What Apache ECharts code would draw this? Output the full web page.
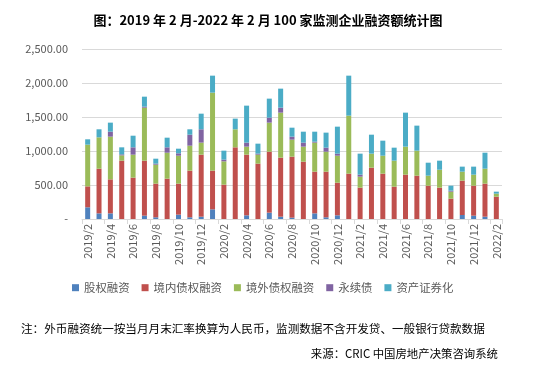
<!DOCTYPE html>
<html><head><meta charset="utf-8">
<script src="https://cdn.jsdelivr.net/npm/echarts@6/dist/echarts.min.js"></script>
<style>html,body{margin:0;padding:0;background:#fff}#c{width:536px;height:371px}</style>
</head><body><div id="c"></div>
<script>
const categories = ['2019/2','2019/3','2019/4','2019/5','2019/6','2019/7','2019/8','2019/9','2019/10','2019/11','2019/12','2020/1','2020/2','2020/3','2020/4','2020/5','2020/6','2020/7','2020/8','2020/9','2020/10','2020/11','2020/12','2021/1','2021/2','2021/3','2021/4','2021/5','2021/6','2021/7','2021/8','2021/9','2021/10','2021/11','2021/12','2022/1','2022/2'];
const equity   = [172,83,83,0,0,49,25,0,64,25,34,142,0,0,54,0,93,34,20,0,83,25,54,0,0,0,0,0,0,0,0,0,0,59,49,34,0];
const domestic = [308,657,500,858,608,809,495,593,456,686,912,569,505,1054,892,814,897,868,897,843,613,671,480,667,461,755,667,475,652,637,490,461,299,505,441,486,328];
const overseas = [613,461,628,78,338,779,279,382,411,367,177,1147,343,265,118,132,427,662,250,221,427,294,397,853,162,206,264,383,412,368,147,264,103,132,162,220,45];
const perpetual= [0,0,73,15,108,15,15,79,35,162,196,0,25,0,59,15,73,73,44,59,14,59,30,0,29,0,0,0,0,0,0,0,15,0,0,0,0];
const abs      = [79,118,133,103,171,147,73,142,68,79,230,250,132,157,544,147,280,280,132,161,147,221,397,588,309,279,221,191,500,368,191,133,73,74,118,235,29];
const seriesNames = ['股权融资','境内债权融资','境外债权融资','永续债','资产证券化'];
const colors = ['#4f81bd','#c0504d','#9bbb59','#8064a2','#4bacc6'];
const yTicks = {max:2500, interval:500};

const chart = echarts.init(document.getElementById('c'));
const dataArr = [equity, domestic, overseas, perpetual, abs];
const font = '"Noto Sans CJK SC", "Microsoft YaHei", sans-serif';
chart.setOption({
  animation:false,
  color: colors,
  title:[
    {text:'图：2019 年 2 月-2022 年 2 月 100 家监测企业融资额统计图', left:'center', top:9,
     textStyle:{fontSize:13, fontWeight:'bold', color:'#000', fontFamily:font}},
    {text:'注：外币融资统一按当月月末汇率换算为人民币，监测数据不含开发贷、一般银行贷款数据', left:16, top:318,
     textStyle:{fontSize:11.6, fontWeight:'normal', color:'#000', fontFamily:font}},
    {text:'来源：CRIC 中国房地产决策咨询系统', right:33, top:343,
     textStyle:{fontSize:11.4, fontWeight:'normal', color:'#000', fontFamily:font}}
  ],
  legend:{data:seriesNames, top:277, left:67, itemWidth:7, itemHeight:7, itemGap:12, icon:'rect',
    textStyle:{fontSize:11.4, color:'#595959', fontFamily:font}},
  grid:{left:82, right:34, top:49, bottom:152},
  xAxis:{type:'category', data:categories, boundaryGap:true,
    axisLine:{lineStyle:{color:'#d9d9d9'}},
    axisTick:{show:true, interval:1, length:5, lineStyle:{color:'#d9d9d9'}},
    axisLabel:{interval:1, rotate:90, fontSize:11, color:'#595959', fontFamily:font, margin:5}},
  yAxis:{type:'value', min:0, max:yTicks.max, interval:yTicks.interval,
    axisLine:{show:false}, axisTick:{show:false},
    splitLine:{lineStyle:{color:'#d9d9d9', width:1}},
    axisLabel:{fontSize:11, color:'#595959', fontFamily:font, margin:14,
      formatter:v=> v===0 ? '-' : v.toLocaleString('en-US',{minimumFractionDigits:2, maximumFractionDigits:2})}},
  series: seriesNames.map((n,i)=>({name:n, type:'bar', stack:'total', barWidth:5, data:dataArr[i]}))
});
</script></body></html>
